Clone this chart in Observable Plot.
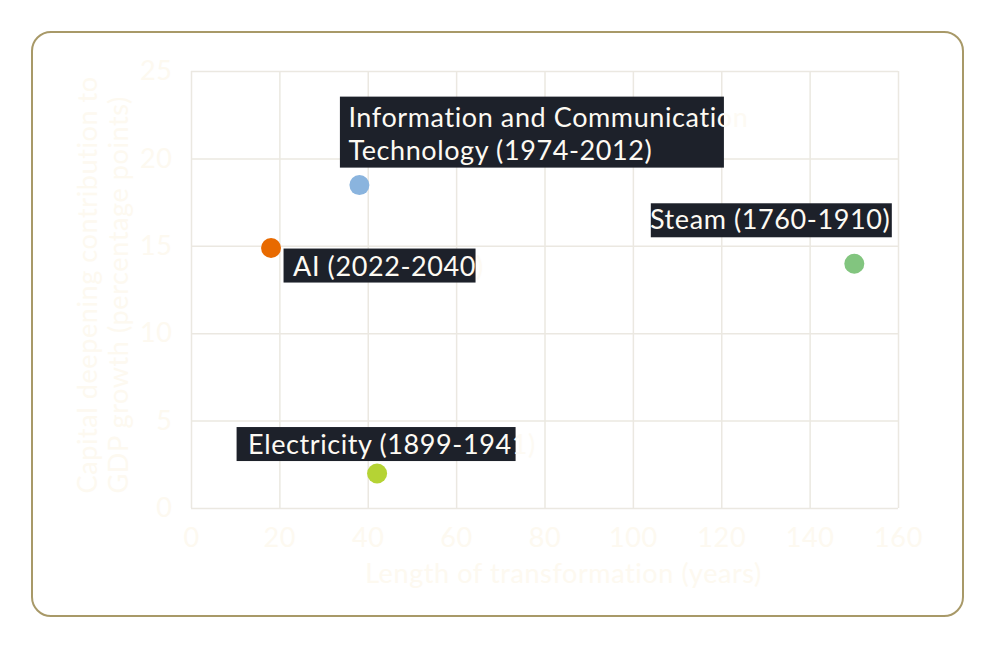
<!DOCTYPE html>
<html><head><meta charset="utf-8">
<script src="https://cdn.jsdelivr.net/npm/d3@7"></script>
<script src="https://cdn.jsdelivr.net/npm/@observablehq/plot@0.6"></script>
<style>
body{margin:0;background:#fff;}
#wrap{position:relative;width:996px;height:648px;overflow:hidden;}
#wrap svg{position:absolute;left:0;top:0;}
#wrap svg text{letter-spacing:0.6px;}
#border{position:absolute;left:31px;top:31px;width:933px;height:586px;box-sizing:border-box;border:2.5px solid #a89968;border-radius:20px;pointer-events:none;}
</style></head><body><div id="wrap"><div id="border"></div></div>
<script>
// ---- data ----
const technologies = ["AI (2022-2040)", "Information and Communication\nTechnology (1974-2012)", "Steam (1760-1910)", "Electricity (1899-1941)"];
const lengthYears = [18, 38, 150, 42];
const capitalContribution = [14.9, 18.5, 14.0, 2.0];
const pointColors = ["#e86a00", "#8ab4de", "#82c57f", "#b5d334"];
const xTicks = [0, 20, 40, 60, 80, 100, 120, 140, 160];
const yTicks = [0, 5, 10, 15, 20, 25];
const xTitle = "Length of transformation (years)";
const yTitle = "Capital deepening contribution to\nGDP growth (percentage points)";

// ---- layout / style ----
const FONT = "Lato";
const FS = 27;
const cream = "#fdf9f0";
const gridColor = "#ebe8e1";
const boxColor = "#1d212a";
// label box (x0,x1,y0,y1) and text offsets, in pixels relative to the point
const labelLayout = [
  {box: [13, 205, 1, 35], dx: 22, base: 28, anchor: "start"},
  {box: [-19, 365, -88, -17], dx: -11, base: -58, anchor: "start"},
  {box: [-203, 38, -60, -26], dx: 36, base: -35, anchor: "end"},
  {box: [-140, 139, -46, -12], dx: -129, base: -20, anchor: "start"}
];
const LH = 33 / FS;

const data = technologies.map((t, i) => ({label: t, x: lengthYears[i], y: capitalContribution[i], color: pointColors[i], i}));

const boxMark = (index, scales) => {
  const g = d3.create("svg:g");
  data.forEach((d, i) => {
    const L = labelLayout[i];
    const px = scales.x(d.x), py = scales.y(d.y);
    g.append("rect")
      .attr("x", px + L.box[0]).attr("y", py + L.box[2])
      .attr("width", L.box[1] - L.box[0]).attr("height", L.box[3] - L.box[2])
      .attr("fill", boxColor);
  });
  return g.node();
};

const textMarks = data.map((d, i) => {
  const L = labelLayout[i];
  const lines = d.label.split("\n").length;
  const lh = lines > 1 ? LH : 1;
  return Plot.text([d], {
    x: "x", y: "y", text: "label",
    dx: L.dx, dy: L.base - 0.71 * lh * FS,
    lineAnchor: "top", textAnchor: L.anchor, lineHeight: lh,
    fill: "#fdfaf3", fontSize: FS, fontFamily: FONT
  });
});

const chart = Plot.plot({
  width: 996, height: 648,
  marginLeft: 191, marginRight: 98, marginTop: 71, marginBottom: 140,
  x: {domain: [0, 160]},
  y: {domain: [0, 25]},
  color: {type: "identity"},
  style: {background: "transparent", fontFamily: FONT},
  marks: [
    Plot.gridX(xTicks, {stroke: gridColor, strokeOpacity: 1, strokeWidth: 1.5}),
    Plot.gridY(yTicks, {stroke: gridColor, strokeOpacity: 1, strokeWidth: 1.5}),
    Plot.axisX(xTicks, {tickSize: 0, tickPadding: 19, fontSize: FS, fill: cream, label: null}),
    Plot.axisY(yTicks, {tickSize: 0, tickPadding: 19, fontSize: FS, fill: cream, label: null}),
    Plot.dot(data, {x: "x", y: "y", r: 10, fill: "color", stroke: null}),
    boxMark,
    ...textMarks,
    Plot.text([xTitle], {frameAnchor: "bottom", dx: 18.5, dy: 582 - 508 - 0.71 * FS, lineAnchor: "top", fontSize: FS, fill: cream, fontFamily: FONT}),
    Plot.text([yTitle], {frameAnchor: "bottom-left", rotate: -90, textAnchor: "start", lineAnchor: "top", lineHeight: 32 / FS,
      dx: 96 - 0.71 * 32 - 191, dy: -15, fontSize: FS, fill: cream, fontFamily: FONT})
  ]
});
document.getElementById("wrap").prepend(chart);
</script>
</body></html>
